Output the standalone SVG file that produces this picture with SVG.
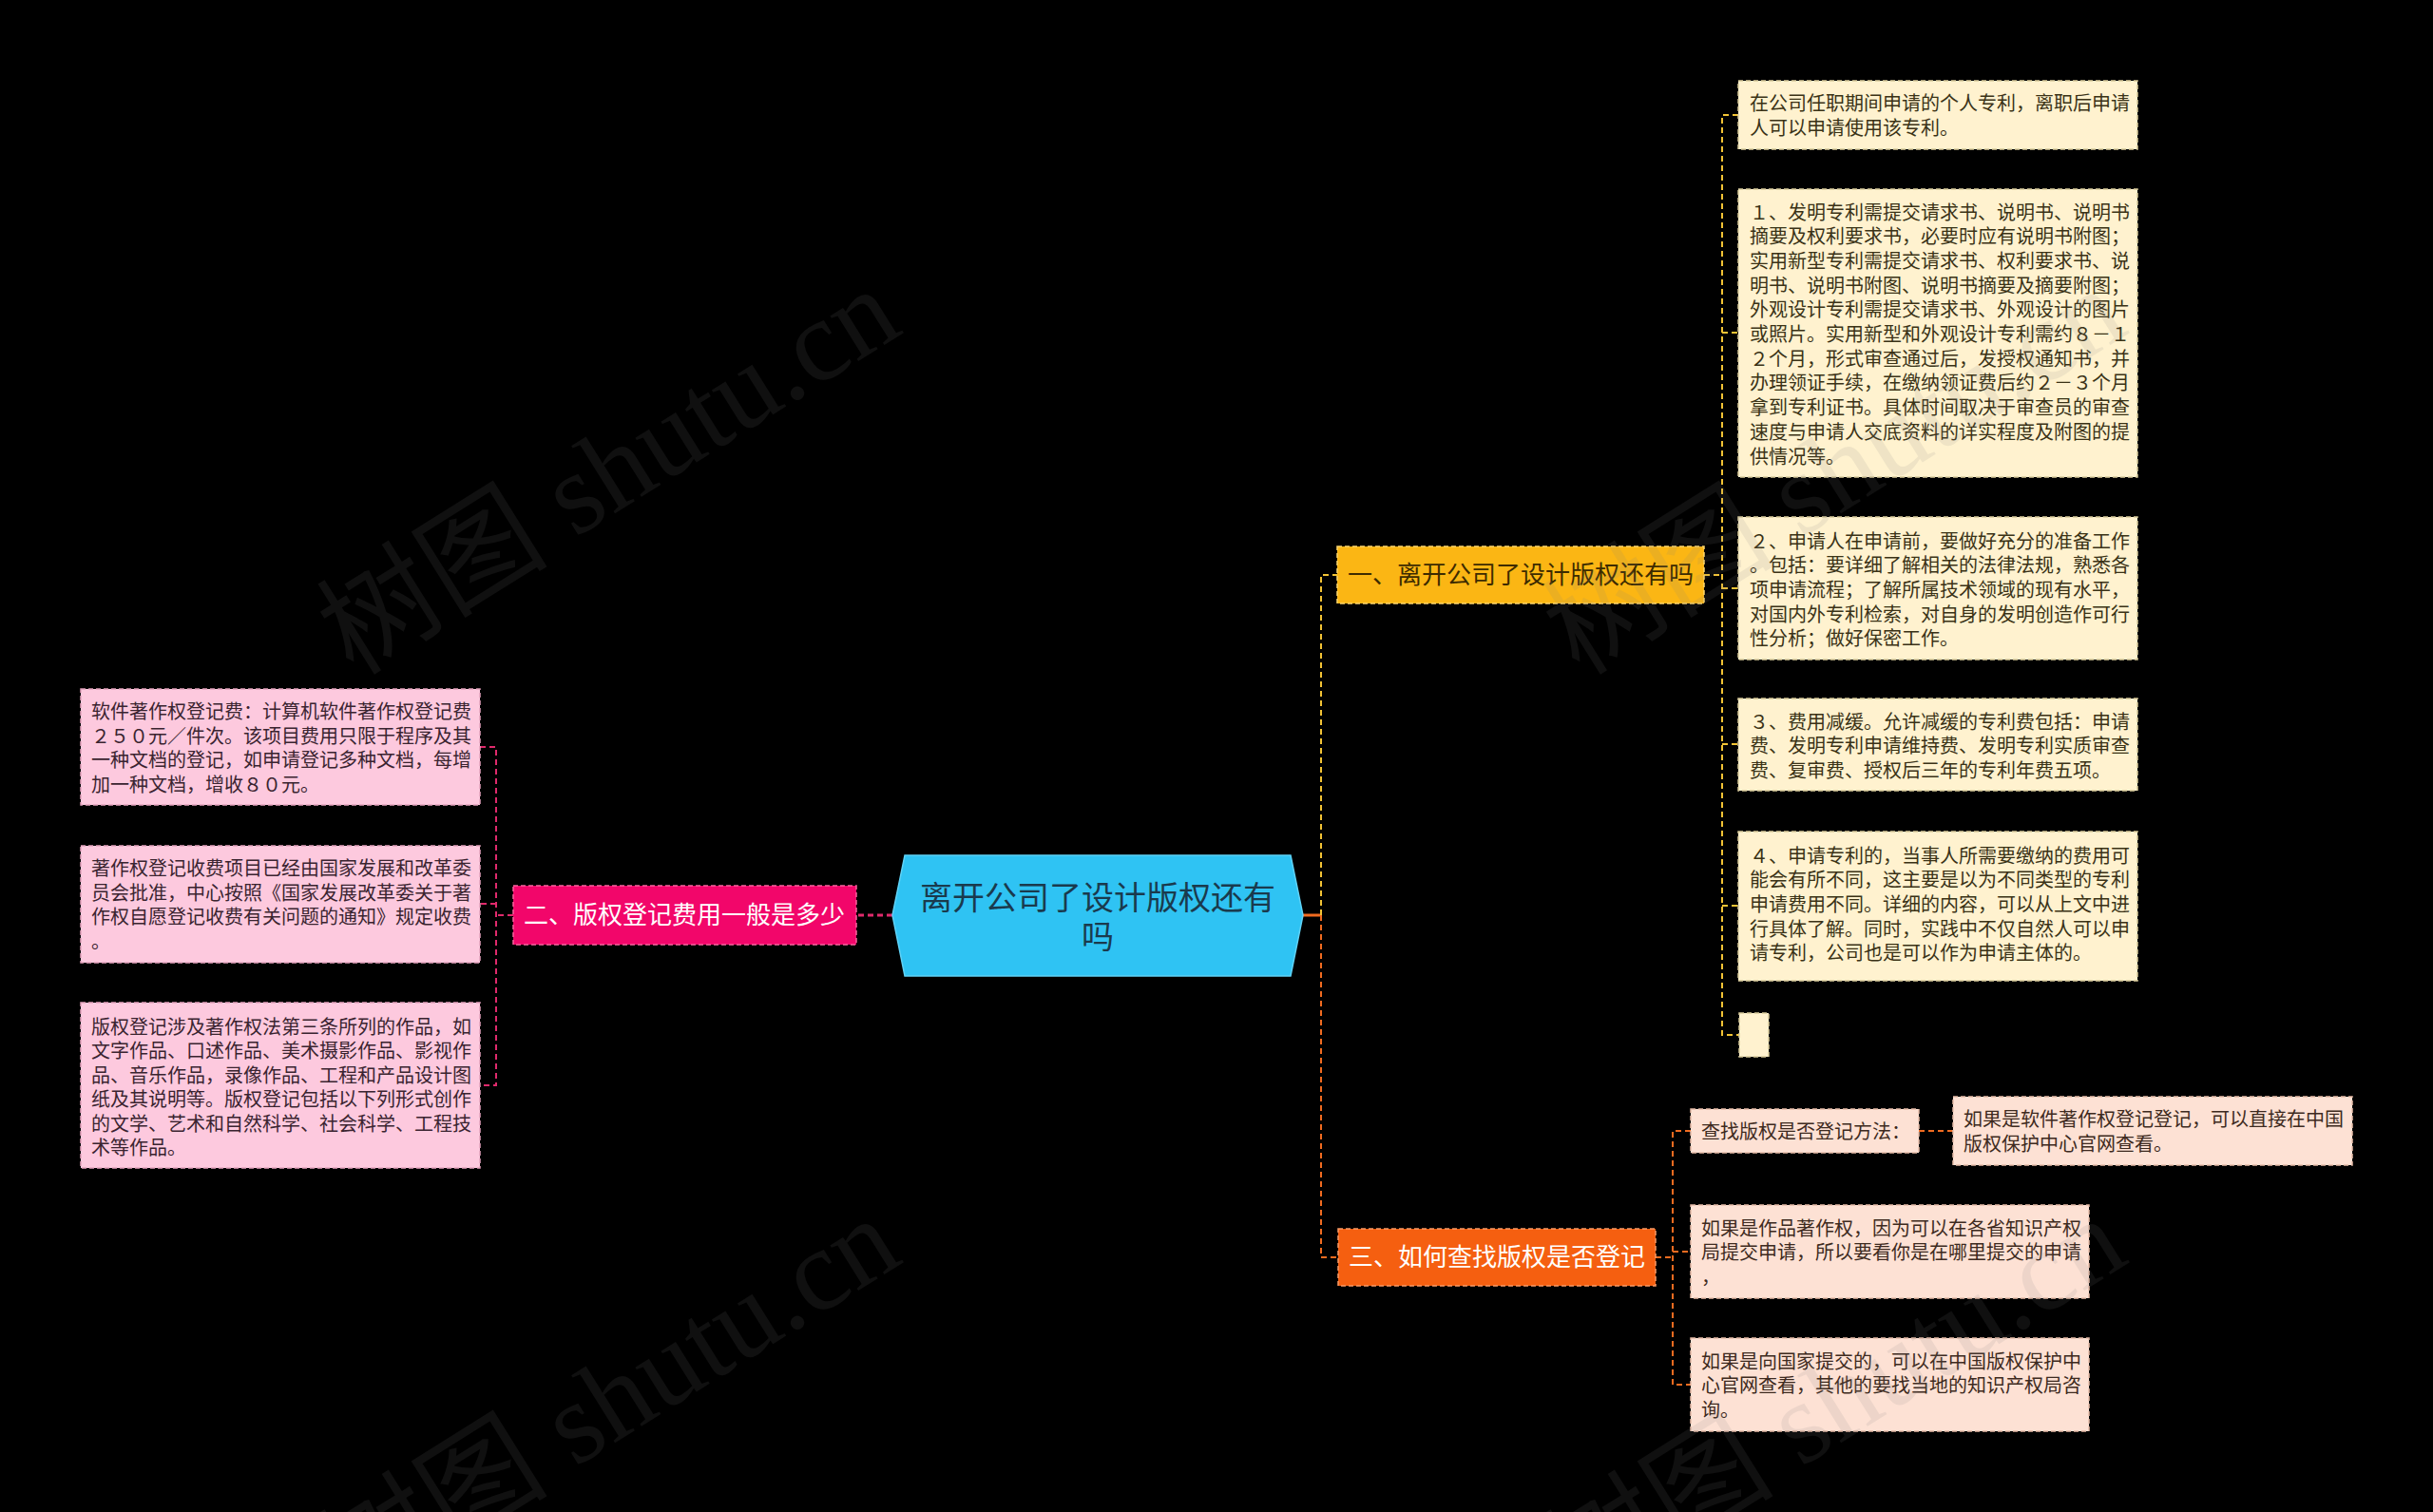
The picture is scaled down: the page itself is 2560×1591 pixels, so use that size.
<svg xmlns="http://www.w3.org/2000/svg" width="2560" height="1591" viewBox="0 0 2560 1591">
<style>
text{font-family:"Noto Sans CJK SC","Noto Sans",sans-serif;}
.leaf{font-size:20px;}
.cream{fill:#fff2cf;stroke:#d9cb9c;stroke-width:1.5;stroke-dasharray:5 3;}
.pinkl{fill:#fdc9de;stroke:#e3a2bd;stroke-width:1.5;stroke-dasharray:5 3;}
.peach{fill:#fde1d4;stroke:#e6bca8;stroke-width:1.5;stroke-dasharray:5 3;}
.tcream{fill:#3a3216;}
.tpink{fill:#3a2430;}
.tpeach{fill:#3d2a20;}
.cy{fill:none;stroke:#f2c335;stroke-width:2;stroke-dasharray:6 4;}
.cp{fill:none;stroke:#e02a6c;stroke-width:2;stroke-dasharray:6 4;}
.co{fill:none;stroke:#f06b20;stroke-width:2;stroke-dasharray:6 4;}
.wm{font-family:"Liberation Serif","Noto Sans CJK SC",serif;font-size:122px;fill:#808080;opacity:0.12;}
</style>
<rect width="2560" height="1591" fill="#000"/>

<g id="connectors">
  <line x1="1371" y1="963" x2="1390" y2="963" stroke="#f06b20" stroke-width="3"/>
  <polyline class="cy" points="1390,963 1390,605 1407,605"/>
  <polyline class="co" points="1390,963 1390,1323 1408,1323"/>
  <line class="cp" x1="939" y1="963" x2="901" y2="963" style="stroke-width:3"/>
  <line class="cp" x1="540" y1="963" x2="522" y2="963"/>
  <polyline class="cp" points="505,786 522,786 522,1142 505,1142"/>
  <line class="cp" x1="522" y1="951" x2="505" y2="951"/>
  <line class="cy" x1="1793" y1="605" x2="1812" y2="605"/>
  <polyline class="cy" points="1829,121 1812,121 1812,1089 1830,1089"/>
  <line class="cy" x1="1812" y1="350" x2="1829" y2="350"/>
  <line class="cy" x1="1812" y1="619" x2="1829" y2="619"/>
  <line class="cy" x1="1812" y1="783" x2="1829" y2="783"/>
  <line class="cy" x1="1812" y1="953" x2="1829" y2="953"/>
  <line class="co" x1="1742" y1="1323" x2="1760" y2="1323"/>
  <polyline class="co" points="1779,1190 1760,1190 1760,1457 1779,1457"/>
  <line class="co" x1="1760" y1="1317" x2="1779" y2="1317"/>
  <line class="co" x1="2019" y1="1190" x2="2055" y2="1190"/>
</g>

<g id="center">
  <polygon points="939,963 952,900 1358,900 1371,963 1358,1027 952,1027" fill="#2fc3f3" stroke="#5fd2f6" stroke-width="1.5"/>
  <text x="1155" y="957" font-size="34" fill="#1a3a4d" text-anchor="middle">离开公司了设计版权还有</text>
  <text x="1155" y="998" font-size="34" fill="#1a3a4d" text-anchor="middle">吗</text>
</g>

<g id="branch1">
  <rect x="1407" y="575" width="386" height="60" fill="#fbb614" stroke="#fdd66e" stroke-width="1.5" stroke-dasharray="5 3"/>
  <text x="1600" y="614" font-size="26" fill="#3d2b00" text-anchor="middle">一、离开公司了设计版权还有吗</text>
</g>

<g id="branch2">
  <rect x="540" y="932" width="361" height="62" fill="#f2066a" stroke="#f9649e" stroke-width="1.5" stroke-dasharray="5 3"/>
  <text x="720" y="972" font-size="26" fill="#fff" text-anchor="middle">二、版权登记费用一般是多少</text>
</g>

<g id="branch3">
  <rect x="1408" y="1293" width="334" height="60" fill="#f55f10" stroke="#f99a66" stroke-width="1.5" stroke-dasharray="5 3"/>
  <text x="1575" y="1332" font-size="26" fill="#fff" text-anchor="middle">三、如何查找版权是否登记</text>
</g>

<g id="leaf-l1">
  <rect class="pinkl" x="85" y="725" width="420" height="122"/>
  <text class="leaf tpink"><tspan x="96" y="756">软件著作权登记费：计算机软件著作权登记费</tspan><tspan x="96" y="781.5">２５０元／件次。该项目费用只限于程序及其</tspan><tspan x="96" y="807">一种文档的登记，如申请登记多种文档，每增</tspan><tspan x="96" y="832.5">加一种文档，增收８０元。</tspan></text>
</g>
<g id="leaf-l2">
  <rect class="pinkl" x="85" y="890" width="420" height="123"/>
  <text class="leaf tpink"><tspan x="96" y="921">著作权登记收费项目已经由国家发展和改革委</tspan><tspan x="96" y="946.5">员会批准，中心按照《国家发展改革委关于著</tspan><tspan x="96" y="972">作权自愿登记收费有关问题的通知》规定收费</tspan><tspan x="96" y="997.5">。</tspan></text>
</g>
<g id="leaf-l3">
  <rect class="pinkl" x="85" y="1055" width="420" height="174"/>
  <text class="leaf tpink"><tspan x="96" y="1087.5">版权登记涉及著作权法第三条所列的作品，如</tspan><tspan x="96" y="1113">文字作品、口述作品、美术摄影作品、影视作</tspan><tspan x="96" y="1138.5">品、音乐作品，录像作品、工程和产品设计图</tspan><tspan x="96" y="1164">纸及其说明等。版权登记包括以下列形式创作</tspan><tspan x="96" y="1189.5">的文学、艺术和自然科学、社会科学、工程技</tspan><tspan x="96" y="1215">术等作品。</tspan></text>
</g>

<g id="leaf-r1">
  <rect class="cream" x="1829" y="85" width="420" height="72"/>
  <text class="leaf tcream"><tspan x="1841" y="116">在公司任职期间申请的个人专利，离职后申请</tspan><tspan x="1841" y="142">人可以申请使用该专利。</tspan></text>
</g>
<g id="leaf-r2">
  <rect class="cream" x="1829" y="199" width="420" height="303"/>
  <text class="leaf tcream"><tspan x="1841" y="230.5">１、发明专利需提交请求书、说明书、说明书</tspan><tspan x="1841" y="256.2">摘要及权利要求书，必要时应有说明书附图；</tspan><tspan x="1841" y="281.9">实用新型专利需提交请求书、权利要求书、说</tspan><tspan x="1841" y="307.6">明书、说明书附图、说明书摘要及摘要附图；</tspan><tspan x="1841" y="333.3">外观设计专利需提交请求书、外观设计的图片</tspan><tspan x="1841" y="359">或照片。实用新型和外观设计专利需约８－１</tspan><tspan x="1841" y="384.7">２个月，形式审查通过后，发授权通知书，并</tspan><tspan x="1841" y="410.4">办理领证手续，在缴纳领证费后约２－３个月</tspan><tspan x="1841" y="436.1">拿到专利证书。具体时间取决于审查员的审查</tspan><tspan x="1841" y="461.8">速度与申请人交底资料的详实程度及附图的提</tspan><tspan x="1841" y="487.5">供情况等。</tspan></text>
</g>
<g id="leaf-r3">
  <rect class="cream" x="1829" y="544" width="420" height="150"/>
  <text class="leaf tcream"><tspan x="1841" y="576.5">２、申请人在申请前，要做好充分的准备工作</tspan><tspan x="1841" y="602.2">。包括：要详细了解相关的法律法规，熟悉各</tspan><tspan x="1841" y="627.9">项申请流程；了解所属技术领域的现有水平，</tspan><tspan x="1841" y="653.6">对国内外专利检索，对自身的发明创造作可行</tspan><tspan x="1841" y="679.3">性分析；做好保密工作。</tspan></text>
</g>
<g id="leaf-r4">
  <rect class="cream" x="1829" y="735" width="420" height="97"/>
  <text class="leaf tcream"><tspan x="1841" y="766.5">３、费用减缓。允许减缓的专利费包括：申请</tspan><tspan x="1841" y="792.2">费、发明专利申请维持费、发明专利实质审查</tspan><tspan x="1841" y="817.9">费、复审费、授权后三年的专利年费五项。</tspan></text>
</g>
<g id="leaf-r5">
  <rect class="cream" x="1829" y="875" width="420" height="157"/>
  <text class="leaf tcream"><tspan x="1841" y="907.5">４、申请专利的，当事人所需要缴纳的费用可</tspan><tspan x="1841" y="933.2">能会有所不同，这主要是以为不同类型的专利</tspan><tspan x="1841" y="958.9">申请费用不同。详细的内容，可以从上文中进</tspan><tspan x="1841" y="984.6">行具体了解。同时，实践中不仅自然人可以申</tspan><tspan x="1841" y="1010.3">请专利，公司也是可以作为申请主体的。</tspan></text>
</g>
<g id="leaf-r6">
  <rect class="cream" x="1830" y="1066" width="31" height="46"/>
</g>

<g id="leaf-o1">
  <rect class="peach" x="1779" y="1167" width="240" height="46"/>
  <text class="leaf tpeach" x="1790" y="1197.5">查找版权是否登记方法：</text>
</g>
<g id="leaf-o1b">
  <rect class="peach" x="2055" y="1154" width="420" height="72"/>
  <text class="leaf tpeach"><tspan x="2066" y="1185">如果是软件著作权登记登记，可以直接在中国</tspan><tspan x="2066" y="1211">版权保护中心官网查看。</tspan></text>
</g>
<g id="leaf-o2">
  <rect class="peach" x="1779" y="1268" width="419" height="98"/>
  <text class="leaf tpeach"><tspan x="1790" y="1299.5">如果是作品著作权，因为可以在各省知识产权</tspan><tspan x="1790" y="1325.2">局提交申请，所以要看你是在哪里提交的申请</tspan><tspan x="1790" y="1350.9">，</tspan></text>
</g>
<g id="leaf-o3">
  <rect class="peach" x="1779" y="1408" width="419" height="98"/>
  <text class="leaf tpeach"><tspan x="1790" y="1439.5">如果是向国家提交的，可以在中国版权保护中</tspan><tspan x="1790" y="1465.2">心官网查看，其他的要找当地的知识产权局咨</tspan><tspan x="1790" y="1490.9">询。</tspan></text>
</g>

<g id="watermarks">
  <text class="wm" x="372" y="712" transform="rotate(-32 372 712)">树图 shutu.cn</text>
  <text class="wm" x="1662" y="712" transform="rotate(-32 1662 712)">树图 shutu.cn</text>
  <text class="wm" x="372" y="1690" transform="rotate(-32 372 1690)">树图 shutu.cn</text>
  <text class="wm" x="1662" y="1690" transform="rotate(-32 1662 1690)">树图 shutu.cn</text>
</g>
</svg>
